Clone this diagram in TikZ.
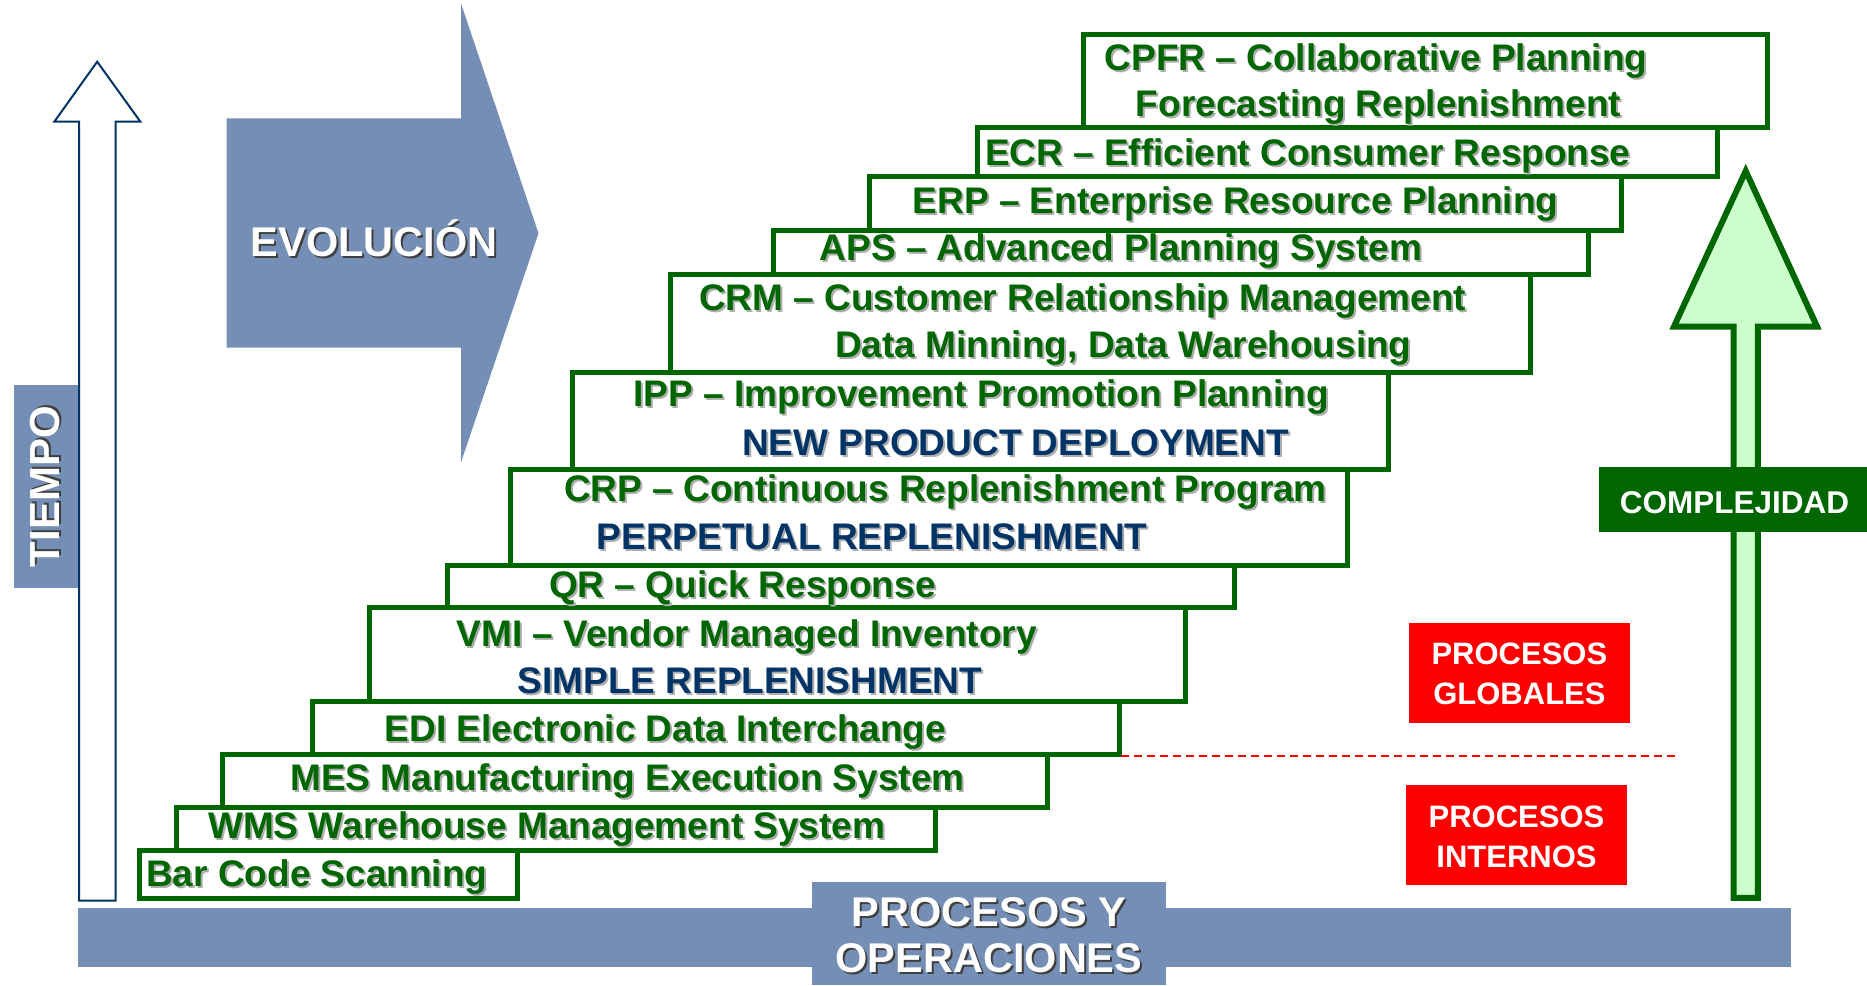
\documentclass[tikz,border=0pt]{standalone}
\usepackage{fontspec}
\setmainfont{Liberation Sans}
\definecolor{gr}{RGB}{0,102,0}
\definecolor{nv}{RGB}{0,51,102}
\definecolor{bl}{RGB}{117,142,181}
\definecolor{lg}{RGB}{204,255,204}
\newcommand{\shg}[1]{\leavevmode\rlap{\kern2pt\raisebox{-2pt}{\color{black!32}#1}}#1}
\newcommand{\shw}[1]{\leavevmode\rlap{\kern2pt\raisebox{-2pt}{\color{black!75}#1}}#1}
\tikzset{
  stepbox/.style={draw=gr, line width=5pt},
  gtext/.style={anchor=base west, inner sep=0pt, text=gr, font=\bfseries\fontsize{37}{44}\selectfont},
  ntext/.style={gtext, text=nv},
  wsmall/.style={anchor=base, inner sep=0pt, text=white, font=\bfseries\fontsize{31}{40}\selectfont},
  wbig/.style={anchor=base, inner sep=0pt, text=white, font=\bfseries\fontsize{41.5}{46}\selectfont},
}
\begin{document}
\begin{tikzpicture}[x=1pt,y=-1pt]
\useasboundingbox (0,0) rectangle (1867,985);

% EVOLUCION arrow
\fill[bl] (226.6,118.3) -- (461.2,118.3) -- (461.2,4) -- (538.5,233.3) -- (461.2,461.7) -- (461.2,347.7) -- (226.6,347.7) -- cycle;
\node[wbig] (evo) at (374,256.7) {\shw{EVOLUCIÓN}};

% TIEMPO
\fill[bl] (14.2,385) rectangle (78.5,587.7);
\draw[draw=nv, line width=2pt, fill=white, line join=miter] (79.2,900.7) -- (79.2,121.7) -- (54.3,121.7) -- (97.2,61.7) -- (140.4,121.7) -- (115.6,121.7) -- (115.6,900.7) -- cycle;
\node[anchor=center, inner sep=0pt, text=white, font=\bfseries\fontsize{42}{46}\selectfont, rotate=90] (tiempo) at (46,486.5) {\shw{TIEMPO}};

% base bar
\fill[bl] (78,908.3) rectangle (1790.8,966.7);
\fill[bl] (812,882.3) rectangle (1166,985);
\node[wbig] (proc1) at (989,926.7) {\shw{PROCESOS Y}};
\node[wbig] (proc2) at (989,972.7) {\shw{OPERACIONES}};

% steps
\draw[stepbox] (139,850.5) rectangle (517,898.3);
\draw[stepbox] (176.7,807.5) rectangle (935.7,850.5);
\draw[stepbox] (222,754) rectangle (1047.3,807.5);
\draw[stepbox] (312.7,701) rectangle (1119.6,754);
\draw[stepbox] (369,607) rectangle (1185.7,701);
\draw[stepbox] (447,565) rectangle (1234.4,607);
\draw[stepbox] (510,469.5) rectangle (1347.4,565);
\draw[stepbox] (572,372) rectangle (1388.9,469.5);
\draw[stepbox] (670,274) rectangle (1530.7,372);
\draw[stepbox] (773.4,230.5) rectangle (1588,274);
\draw[stepbox] (869.4,176) rectangle (1621.8,230.5);
\draw[stepbox] (977.7,127.5) rectangle (1717,176);
\draw[stepbox] (1083.7,34.8) rectangle (1767.5,127.5);

\node[gtext] (t1) at (146,886) {\shg{Bar Code Scanning}};
\node[gtext] (t2) at (208,838.3) {\shg{WMS Warehouse Management System}};
\node[gtext] (t3) at (290,790) {\shg{MES Manufacturing Execution System}};
\node[gtext] (t4) at (384.6,741.7) {\shg{EDI Electronic Data Interchange}};
\node[gtext] (t5) at (456.6,646.7) {\shg{VMI – Vendor Managed Inventory}};
\node[ntext] (t5b) at (517.4,693.3) {\shg{SIMPLE REPLENISHMENT}};
\node[gtext] (t6) at (549,597.3) {\shg{QR – Quick Response}};
\node[gtext] (t7) at (564,501.7) {\shg{CRP – Continuous Replenishment Program}};
\node[ntext] (t7b) at (596.5,549) {\shg{PERPETUAL REPLENISHMENT}};
\node[gtext] (t8) at (633.5,406) {\shg{IPP – Improvement Promotion Planning}};
\node[ntext] (t8b) at (742,455) {\shg{NEW PRODUCT DEPLOYMENT}};
\node[gtext] (t9) at (699,310) {\shg{CRM – Customer Relationship Management}};
\node[gtext] (t9b) at (835,357.3) {\shg{Data Minning, Data Warehousing}};
\node[gtext] (t10) at (819.6,260) {\shg{APS – Advanced Planning System}};
\node[gtext] (t11) at (912.5,213.3) {\shg{ERP – Enterprise Resource Planning}};
\node[gtext] (t12) at (984.8,165.7) {\shg{ECR – Efficient Consumer Response}};
\node[gtext] (t13) at (1104.5,70) {\shg{CPFR – Collaborative Planning}};
\node[gtext] (t13b) at (1135.7,116.7) {\shg{Forecasting Replenishment}};

% red boxes
\fill[red] (1408.8,623) rectangle (1630,722.7);
\node[wsmall] (g1) at (1519.4,664.3) {PROCESOS};
\node[wsmall] (g2) at (1519.4,704) {GLOBALES};
\fill[red] (1405.9,785) rectangle (1627,884.7);
\node[wsmall] (i1) at (1516.5,827.7) {PROCESOS};
\node[wsmall] (i2) at (1516.5,867.3) {INTERNOS};

% dashed divider
\coordinate (d1) at (1121.4,755.7);
\coordinate (d2) at (1676.4,755.7);
\draw[red, line width=2pt, dash pattern=on 8pt off 5pt] (d1) -- (d2);

% complexity arrow
\draw[draw=gr, fill=lg, line width=6pt, line join=miter] (1733.6,897.8) -- (1733.6,326.5) -- (1674,326.5) -- (1745.7,171) -- (1817,326.5) -- (1757.8,326.5) -- (1757.8,897.8) -- cycle;
\fill[gr] (1599,466.7) rectangle (1867,531.7);
\node[wsmall, font=\bfseries\fontsize{31.5}{40}\selectfont] (comp) at (1734.5,513.3) {COMPLEJIDAD};
\end{tikzpicture}
\end{document}
